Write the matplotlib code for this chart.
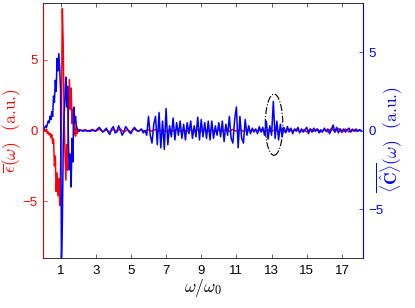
import numpy as np
import matplotlib
matplotlib.use("Agg")
import matplotlib.pyplot as plt
from matplotlib.patches import Ellipse

plt.rcParams["font.family"] = ["Liberation Sans", "DejaVu Sans"]
plt.rcParams["mathtext.fontset"] = "cm"

# ---------------------------------------------------------------------------
# Data read off the reference (low-frequency part sampled every 0.05,
# the rest every 0.1 for the blue curve and 0.2 for the red curve)
# ---------------------------------------------------------------------------
eps_low = [0.0, 0.0, 0.05, -0.05, 0.1, -0.2, -0.1, -0.3, -0.2, -0.5,
           -0.3, -0.9, -0.6, -2.5, -1.8, -4.3, -3.0, -4.6, -3.4, -5.3,
           -2.5, 1.0, 8.6, 6.0, 1.0, -1.5, -3.5, -1.0, -2.8, 2.0,
           3.6, 1.5, 3.0, 0.5, 1.5, -0.3, 0.6, -0.4, 0.2, -0.2,
           0.05, -0.05, 0.0, 0.02]
corr_low = [0.0, 0.1, 0.2, 0.3, 0.2, 0.4, 0.6, 0.5, 0.9, 0.7,
            1.2, 0.9, 2.2, 1.8, 3.2, 2.5, 4.6, 3.8, 4.9, 4.0,
            2.5, -8.2, -6.0, -1.0, 1.0, 2.0, 3.4, 1.5, 2.8, -1.0,
            -2.5, -1.5, -3.6, -0.5, -2.0, 1.5, 0.5, 0.9, 0.3, 0.1,
            0.05, -0.05, 0.05, 0.0]

eps_high = [0.0, 0.05, -0.05, 0.08, -0.05, 0.1, -0.08, 0.05, -0.1, 0.1,
            -0.05, 0.1, -0.1, 0.05, -0.08, 0.1, -0.05, 0.05, -0.05, 0.05,
            -0.05, 0.08, -0.05, 0.05, -0.08, 0.05, -0.05, 0.08, -0.05, 0.05,
            -0.08, 0.05, -0.05, 0.08, -0.05, 0.05, -0.05, 0.05, -0.08, 0.05,
            -0.05, 0.05, -0.05, 0.08, -0.05, 0.05, -0.05, 0.05, -0.05, 0.05,
            -0.05, 0.05, -0.08, 0.05, -0.05, 0.05, -0.05, 0.08, -0.1, 0.1,
            -0.05, 0.1, -0.1, 0.05, -0.1, 0.1, -0.05, 0.1, -0.1, 0.05,
            -0.1, 0.15, -0.1, 0.15, -0.15, 0.1, -0.1, 0.1, -0.05, 0.05]
corr_high = [0.0, -0.05, 0.02, -0.05, 0.0, -0.05, 0.03, -0.03, 0.0, 0.1,
             0.2, 0.05, -0.1, 0.0, 0.15, -0.1, -0.25, 0.1, 0.25, -0.15,
             -0.1, 0.3, 0.05, -0.3, -0.1, 0.25, 0.1, -0.1, -0.2, 0.05,
             0.2, 0.05, -0.05, 0.0, 0.1, -0.15, 0.0, -0.3, 0.9,
             -0.3, -0.8, 0.4, 0.9, -0.9, 1.15, -1.1, 0.6, -1.2, 1.4,
             -0.9, 0.3, -0.4, 0.8, -0.6, 0.5, -0.3, 0.6, -0.5, 0.4,
             -0.6, 0.5, -0.2, 0.6, -0.5, 0.3, -0.4, 0.85, -0.6, 0.7,
             -0.4, 0.5, -0.5, 0.6, -0.6, 0.6, -0.5, 0.3, -0.3, 0.5,
             -0.4, 0.6, -0.7, 0.4, -0.3, 0.9, -0.5, -0.8, 0.7, 1.5,
             -1.1, 0.9, -0.5, -0.8, 0.7, -0.3, 0.3, -0.2, 0.15, -0.1,
             0.1, -0.2, 0.25, -0.1, 0.2, -0.3, 0.6, -0.55, 0.3, -0.3,
             1.85, -0.5, 0.6, -0.6, 0.4, -0.4,
             0.2, -0.15, 0.25, -0.1, 0.15, -0.2, 0.1, -0.05, 0.2, -0.15,
             0.1, -0.1, 0.05, 0.2, -0.2, 0.1, -0.1, 0.15, -0.05, 0.1,
             -0.15, 0.05, -0.1, 0.15, -0.05, 0.1, -0.2, 0.05, 0.35, -0.1,
             0.2, -0.15, 0.1, -0.05, 0.1, -0.1, 0.05, 0.15, -0.1, 0.05,
             -0.05, 0.1, -0.05, 0.05, 0.0]

# sampling grids
w_low = 0.05 * np.arange(len(eps_low))
w_eps = np.concatenate([w_low, 2.2 + 0.2 * np.arange(len(eps_high))])
w_corr = np.concatenate([w_low, 2.2 + 0.1 * np.arange(len(corr_high))])
eps = np.array(eps_low + eps_high)
corr = np.array(corr_low + corr_high)

x_ticks = [1, 3, 5, 7, 9, 11, 13, 15, 17]
y_ticks = [-5, 0, 5]

# highlighted peak (dash-dot ellipse), in right-axis units
mark_center = (13.14, 0.37)
mark_size = (1.0, 3.9)

# ---------------------------------------------------------------------------
fig = plt.figure(figsize=(4.15, 3.08), dpi=100)
ax = fig.add_axes([0.1036, 0.1623, 0.7711, 0.8279])
ax2 = ax.twinx()

ax.plot(w_eps, eps, color="red", lw=1.1)
ax2.plot(w_corr, corr, color="blue", lw=1.1)
ax2.add_patch(Ellipse(mark_center, mark_size[0], mark_size[1], fill=False,
                      ec="black", ls="-.", lw=0.8))

ax.set_xlim(0, 18.2)
ax.set_ylim(-9, 9)
ax2.set_ylim(-8.12, 8.12)
ax.set_xticks(x_ticks)
ax.set_yticks(y_ticks)
ax2.set_yticks(y_ticks)

fs = 9.5
ax.tick_params(axis="x", direction="in", top=True, length=3, width=0.5,
               labelsize=fs, color="#262626", pad=5)
ax.tick_params(axis="y", direction="in", length=3, width=0.5,
               labelsize=fs, colors="red", pad=4)
ax2.tick_params(axis="y", direction="in", length=3, width=0.5,
                labelsize=fs, colors="blue", pad=4)

for a in (ax, ax2):
    a.spines["top"].set_color("#262626")
    a.spines["bottom"].set_color("#262626")
    a.spines["top"].set_linewidth(0.5)
    a.spines["bottom"].set_linewidth(0.5)
ax2.spines["left"].set_color("red")
ax2.spines["right"].set_color("blue")
ax2.spines["left"].set_linewidth(0.6)
ax2.spines["right"].set_linewidth(0.6)

lab_font = dict(fontsize=12.5, fontfamily="cmr10")
ax.set_xlabel(r"$\omega/\omega_0$", fontsize=12.5, labelpad=0)
ax.set_ylabel(r"$\overline{\epsilon}(\omega)$  (a.u.)", color="red", **lab_font)
ax2.set_ylabel(r"$\overline{\langle\hat{\mathbf{C}}\rangle}(\omega)$  (a.u.)",
               color="blue", **lab_font)
ax.yaxis.set_label_coords(-0.063, 0.5)
ax2.yaxis.set_label_coords(1.036, 0.465)

fig.savefig("out.png", dpi=100)
